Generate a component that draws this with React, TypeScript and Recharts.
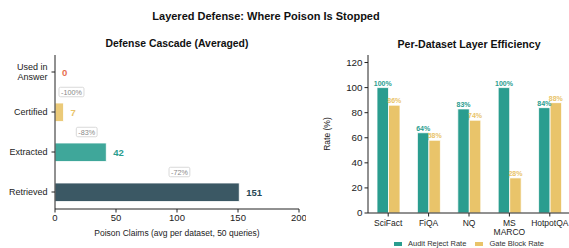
import React from 'react';
import {
  BarChart,
  Bar,
  XAxis,
  YAxis,
  LabelList,
  Legend,
  ReferenceDot,
  Label,
} from 'recharts';

// left panel: cascade, listed top to bottom
const cascadeStages = ['Used in\nAnswer', 'Certified', 'Extracted', 'Retrieved'];
const cascadeValues = [0, 7, 42, 151];
const cascadeColors = ['#e76f51', '#e9c46a', '#2a9d8f', '#264653'];
const dropLabels = ['-100%', '-83%', '-72%'];
const dropAnchorX = [13.5, 26, 102];

// right panel: per-dataset rates
const datasets = ['SciFact', 'FiQA', 'NQ', 'MS\nMARCO', 'HotpotQA'];
const auditRejectRate = [100, 64, 83, 100, 84];
const gateBlockRate = [86, 58, 74, 28, 88];

const FONT = '"Liberation Sans", Arial, Helvetica, sans-serif';
const TEAL = '#2a9d8f';
const SAND = '#e9c46a';

const cascadeData = cascadeStages.map((name, i) => ({
  pos: i,
  name,
  value: cascadeValues[i],
  color: cascadeColors[i],
}));

const rateData = datasets.map((name, i) => ({
  name,
  audit: auditRejectRate[i],
  gate: gateBlockRate[i],
}));

const StageTick = (props: any) => {
  const { x, y, payload } = props;
  const lines = String(cascadeStages[payload.value] ?? '').split('\n');
  const lh = 10;
  const start = y - ((lines.length - 1) * lh) / 2;
  return (
    <text x={x - 2} y={start} textAnchor="end" fontSize={9} fill="#222" fontFamily={FONT} dominantBaseline="central">
      {lines.map((l, i) => (
        <tspan key={i} x={x - 2} y={start + i * lh}>
          {l}
        </tspan>
      ))}
    </text>
  );
};

const DatasetTick = (props: any) => {
  const { x, y, payload } = props;
  const lines = String(payload.value).split('\n');
  return (
    <text x={x} y={y} textAnchor="middle" fontSize={8.5} fill="#222" fontFamily={FONT}>
      {lines.map((l, i) => (
        <tspan key={i} x={x} dy={i === 0 ? 7.5 : 9}>
          {l}
        </tspan>
      ))}
    </text>
  );
};

const DropBox = (label: string) => (props: any) => {
  const { cx, cy } = props;
  const w = label.length * 4.2 + 4;
  const h = 9.5;
  return (
    <g>
      <rect x={cx - w / 2} y={cy - h / 2} width={w} height={h} rx={1.5} fill="#fff" stroke="#cfcfcf" strokeWidth={0.8} />
      <text x={cx} y={cy} textAnchor="middle" dominantBaseline="central" fontSize={7.2} fill="#888" fontFamily={FONT}>
        {label}
      </text>
    </g>
  );
};

const RateLegend = () => (
  <div style={{ display: 'flex', justifyContent: 'center', gap: 9, fontSize: 7.5, lineHeight: '8px', fontFamily: FONT, color: '#333' }}>
    {[
      { c: TEAL, t: 'Audit Reject Rate' },
      { c: SAND, t: 'Gate Block Rate' },
    ].map((it) => (
      <div key={it.t} style={{ display: 'flex', alignItems: 'center', gap: 6.5 }}>
        <span style={{ display: 'inline-block', width: 7.5, height: 4.5, background: it.c }} />
        <span>{it.t}</span>
      </div>
    ))}
  </div>
);

const App: React.FC = () => {
  return (
    <div style={{ position: 'absolute', left: 0, top: 0, width: 569, height: 248, overflow: 'hidden', background: '#fff', fontFamily: FONT }}>
      <div style={{ position: 'absolute', left: 0, width: 532, top: 10, textAlign: 'center', fontSize: 11, fontWeight: 700, color: '#111' }}>
        Layered Defense: Where Poison Is Stopped
      </div>
      <div style={{ position: 'absolute', left: 55, width: 244, top: 38, textAlign: 'center', fontSize: 10.4, fontWeight: 700, color: '#111' }}>
        Defense Cascade (Averaged)
      </div>
      <div style={{ position: 'absolute', left: 368, width: 202, top: 38, textAlign: 'center', fontSize: 10.6, fontWeight: 700, color: '#111' }}>
        Per-Dataset Layer Efficiency
      </div>

      <div style={{ position: 'absolute', left: 0, top: 0 }}>
        <BarChart
          width={306}
          height={248}
          data={cascadeData}
          layout="vertical"
          margin={{ top: 55, right: 7, bottom: 9, left: 0 }}
        >
          <XAxis
            type="number"
            dataKey="value"
            domain={[0, 200]}
            ticks={[0, 50, 100, 150, 200]}
            tick={{ fontSize: 9.5, fill: '#222', fontFamily: FONT }}
            tickSize={3.5}
            axisLine={{ stroke: '#222', strokeWidth: 1 }}
            tickLine={{ stroke: '#222' }}
            height={30}
          >
            <Label value="Poison Claims (avg per dataset, 50 queries)" position="insideBottom" offset={3} fontSize={8.5} fill="#222" fontFamily={FONT} />
          </XAxis>
          <YAxis
            type="number"
            dataKey="pos"
            domain={[-0.425, 3.425]}
            ticks={[0, 1, 2, 3]}
            tick={<StageTick />}
            tickSize={3.5}
            width={55}
            axisLine={{ stroke: '#222', strokeWidth: 1 }}
            tickLine={{ stroke: '#222' }}
            allowDataOverflow
          />
          <Bar dataKey="value" barSize={18.5} isAnimationActive={false}
            shape={(p: any) => (
              <rect x={p.x} y={p.y} width={Math.max(p.width, 0)} height={p.height} fill={p.payload.color} fillOpacity={0.9} stroke="#fff" strokeWidth={0.8} />
            )}
          >
            <LabelList
              dataKey="value"
              content={(p: any) => (
                <text x={p.x + p.width + 7} y={p.y + p.height / 2} dominantBaseline="central" fontSize={9.5} fontWeight={700} fill={cascadeColors[p.index]} fontFamily={FONT}>
                  {p.value}
                </text>
              )}
            />
          </Bar>
          {dropLabels.map((lbl, i) => (
            <ReferenceDot key={lbl} x={dropAnchorX[i]} y={i + 0.5} r={0} shape={DropBox(lbl)} ifOverflow="visible" />
          ))}
        </BarChart>
      </div>

      <div style={{ position: 'absolute', left: 300, top: 0 }}>
        <BarChart
          width={270}
          height={248}
          data={rateData}
          margin={{ top: 55, right: 0, bottom: 2, left: 0 }}
          barGap={0}
          barCategoryGap={8}
        >
          <XAxis
            dataKey="name"
            tick={<DatasetTick />}
            tickSize={3.5}
            interval={0}
            axisLine={{ stroke: '#222', strokeWidth: 1 }}
            tickLine={{ stroke: '#222' }}
            height={25}
          />
          <YAxis
            domain={[0, 126]}
            ticks={[0, 20, 40, 60, 80, 100, 120]}
            tick={{ fontSize: 9.8, fill: '#222', fontFamily: FONT }}
            tickSize={3.5}
            width={68}
            axisLine={{ stroke: '#222', strokeWidth: 1 }}
            tickLine={{ stroke: '#222' }}
            allowDataOverflow
          >
            <Label value="Rate (%)" angle={-90} position="insideLeft" offset={27} fontSize={8.5} fill="#222" fontFamily={FONT} style={{ textAnchor: 'middle' }} />
          </YAxis>
          <Legend content={<RateLegend />} wrapperStyle={{ top: 240, left: 68, width: 202 }} />
          <Bar dataKey="audit" name="Audit Reject Rate" fill={TEAL} barSize={11.5} stroke="#fff" strokeWidth={0.8} isAnimationActive={false}>
            <LabelList dataKey="audit" position="top" offset={2} formatter={(v: any) => `${v}%`} fontSize={7} fontWeight={700} fill={TEAL} fontFamily={FONT} />
          </Bar>
          <Bar dataKey="gate" name="Gate Block Rate" fill={SAND} barSize={11.5} stroke="#fff" strokeWidth={0.8} isAnimationActive={false}>
            <LabelList dataKey="gate" position="top" offset={2} formatter={(v: any) => `${v}%`} fontSize={7} fontWeight={700} fill={SAND} fontFamily={FONT} />
          </Bar>
        </BarChart>
      </div>
    </div>
  );
};

export default App;
